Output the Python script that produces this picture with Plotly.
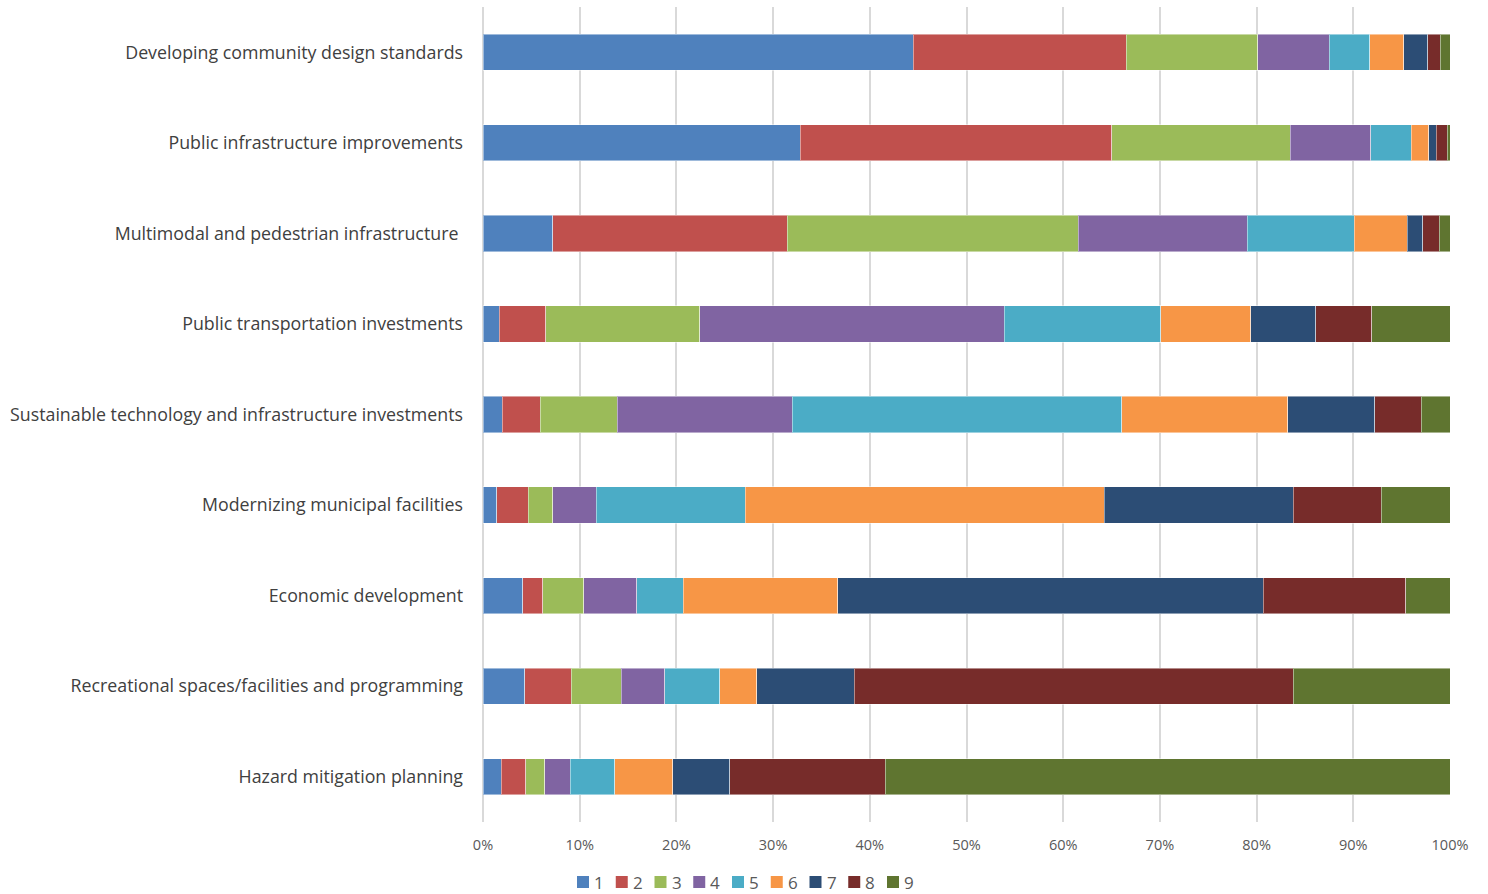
import plotly.graph_objects as go

categories = [
    "Developing community design standards",
    "Public infrastructure improvements",
    "Multimodal and pedestrian infrastructure ",
    "Public transportation investments",
    "Sustainable technology and infrastructure investments",
    "Modernizing municipal facilities",
    "Economic development",
    "Recreational spaces/facilities and programming",
    "Hazard mitigation planning",
]

# share of responses by rank (1 = highest priority), per category, in percent
rank_1 = [44.5, 32.8, 7.2, 1.7, 2.0, 1.4, 4.1, 4.3, 1.9]
rank_2 = [22.0, 32.2, 24.3, 4.8, 3.9, 3.3, 2.1, 4.8, 2.5]
rank_3 = [13.6, 18.5, 30.1, 15.9, 8.0, 2.5, 4.2, 5.2, 2.0]
rank_4 = [7.4, 8.3, 17.5, 31.5, 18.1, 4.5, 5.5, 4.5, 2.6]
rank_5 = [4.2, 4.2, 11.1, 16.2, 34.1, 15.4, 4.8, 5.7, 4.6]
rank_6 = [3.5, 1.8, 5.5, 9.3, 17.2, 37.1, 16.0, 3.8, 6.0]
rank_7 = [2.5, 0.8, 1.6, 6.7, 9.0, 19.5, 44.0, 10.1, 5.9]
rank_8 = [1.3, 1.1, 1.7, 5.8, 4.8, 9.1, 14.7, 45.4, 16.1]
rank_9 = [1.0, 0.3, 1.1, 8.1, 3.0, 7.1, 4.6, 16.2, 58.4]

series_names = ["1", "2", "3", "4", "5", "6", "7", "8", "9"]
series_values = [rank_1, rank_2, rank_3, rank_4, rank_5, rank_6, rank_7, rank_8, rank_9]
colors = ["#4F81BD", "#C0504D", "#9BBB59", "#8064A2", "#4BACC6",
          "#F79646", "#2C4D75", "#772C2A", "#5F7530"]

W, H = 1488, 894
M_L, M_R, M_T, M_B = 483, 38, 7, 72
plot_w = W - M_L - M_R
plot_h = H - M_T - M_B

fig = go.Figure()
for name, vals, col in zip(series_names, series_values, colors):
    fig.add_trace(go.Bar(
        y=categories,
        x=vals,
        name=name,
        orientation="h",
        marker=dict(color=col, line=dict(color="rgba(255,255,255,0.45)", width=1)),
        width=0.4,
    ))

# compact legend row under the axis: colour swatch followed by the rank label
def px_to_paper_x(px):
    return (px - M_L) / plot_w

def px_to_paper_y(py):
    return (H - M_B - py) / plot_h

legend_left = 577
legend_step = 38.75
swatch = 12
legend_mid_y = 882
shapes, annotations = [], []
for i, (name, col) in enumerate(zip(series_names, colors)):
    x0 = legend_left + i * legend_step
    shapes.append(dict(
        type="rect", xref="paper", yref="paper",
        x0=px_to_paper_x(x0), x1=px_to_paper_x(x0 + swatch),
        y0=px_to_paper_y(legend_mid_y + swatch / 2), y1=px_to_paper_y(legend_mid_y - swatch / 2),
        fillcolor=col, line=dict(width=0),
    ))
    annotations.append(dict(
        text=name, xref="paper", yref="paper",
        x=px_to_paper_x(x0 + swatch + 3), y=px_to_paper_y(legend_mid_y),
        xanchor="left", yanchor="middle", showarrow=False,
        font=dict(size=17, color="#595959"),
    ))

fig.update_layout(
    barmode="stack",
    barnorm="percent",
    width=W,
    height=H,
    margin=dict(l=M_L, r=M_R, t=M_T, b=M_B),
    paper_bgcolor="white",
    plot_bgcolor="white",
    font=dict(family="Open Sans, sans-serif", color="#404040"),
    xaxis=dict(
        range=[0, 100],
        dtick=10,
        ticksuffix="%",
        showgrid=True,
        gridcolor="#D9D9D9",
        gridwidth=1.5,
        zeroline=True,
        zerolinecolor="#D9D9D9",
        zerolinewidth=1.5,
        tickfont=dict(size=14.5, color="#595959"),
        ticks="",
        ticklabelstandoff=12,
        automargin=False,
        fixedrange=True,
    ),
    yaxis=dict(
        autorange="reversed",
        tickfont=dict(size=17.8, color="#404040"),
        ticks="",
        ticklabelstandoff=19,
        showgrid=False,
        automargin=False,
        fixedrange=True,
    ),
    showlegend=False,
    shapes=shapes,
    annotations=annotations,
)

fig.write_html("out.html")
